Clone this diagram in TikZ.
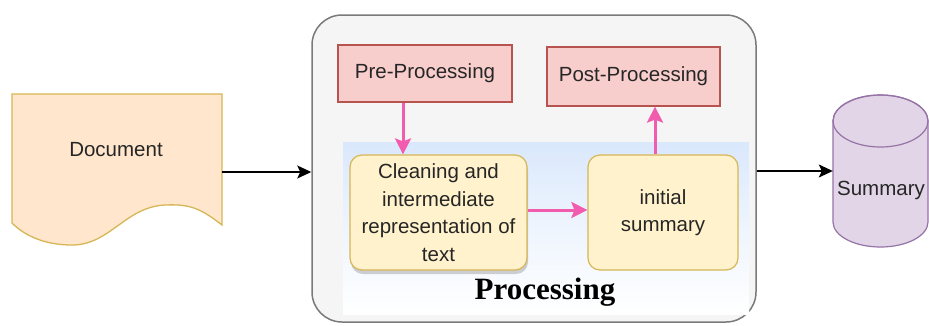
\documentclass[tikz,border=0pt]{standalone}
\usepackage{fontspec}
\setmainfont{Liberation Sans}
\newfontfamily\procfont{Liberation Serif}
\usetikzlibrary{arrows.meta,shadows}
\definecolor{docfill}{HTML}{FFE6CC}
\definecolor{docline}{HTML}{D6B656}
\definecolor{contfill}{HTML}{F5F5F5}
\definecolor{contline}{HTML}{7A7A7A}
\definecolor{bandtop}{HTML}{DAE8FC}
\definecolor{redfill}{HTML}{F8CECC}
\definecolor{redline}{HTML}{B85450}
\definecolor{yelfill}{HTML}{FFF2CC}
\definecolor{yelline}{HTML}{D6B656}
\definecolor{purfill}{HTML}{E1D5E7}
\definecolor{purline}{HTML}{9673A6}
\definecolor{pinkarrow}{HTML}{F25CAE}
\definecolor{txtcol}{HTML}{262626}
\tikzset{
  lbl/.style={text=txtcol, font=\fontsize{20.5}{27.5}\selectfont, inner sep=0pt},
  redbox/.style={draw=redline, fill=redfill, line width=1.2pt, lbl},
  yelbox/.style={draw=yelline, fill=yelfill, line width=1.2pt, rounded corners=12pt, lbl, align=center},
  pk/.style={draw=pinkarrow, line width=3pt, -{Stealth[length=16pt,width=16pt,inset=3pt]}},
  blk/.style={draw=black, line width=1.3pt, -{Stealth[length=14pt,width=13pt,inset=3pt]}},
}
\begin{document}
\begin{tikzpicture}[x=1pt,y=-1pt]
\useasboundingbox (0,0) rectangle (929,325);
\fill[white] (0,0) rectangle (929,325);
% Document shape
\draw[draw=docline, fill=docfill, line width=1.3pt]
  (12,94) -- (222,94) -- (222,225)
  .. controls (200,208) and (190,204) .. (165,205)
  .. controls (125,207) and (110,245) .. (72,245)
  .. controls (45,245) and (25,236) .. (12,223) -- cycle;
\node[minimum width=210pt, minimum height=156pt, inner sep=0pt] (doc) at (117,172) {};
\node[lbl] (doclbl) at (116,150) {Document};
% Processing container
\node[draw=contline, fill=contfill, line width=1.5pt, rounded corners=30pt,
      minimum width=444pt, minimum height=307pt] (proc) at (534,168.5) {};
\node[top color=bandtop, bottom color=white, middle color=bandtop!45!white,
      minimum width=406pt, minimum height=172pt, inner sep=0pt] (band) at (546,228) {};
\node[redbox, minimum width=174pt, minimum height=57pt] (pre) at (425,73.5) {Pre-Processing};
\node[redbox, minimum width=173pt, minimum height=59pt] (post) at (633.5,76.5) {Post-Processing};
\node[yelbox, minimum width=177pt, minimum height=115pt,
      drop shadow={shadow xshift=1pt, shadow yshift=-4pt, opacity=0.3, fill=black!60}] (clean) at (438.5,212.5)
  {Cleaning and\\intermediate\\representation of\\text};
\node[yelbox, minimum width=150pt, minimum height=115pt] (init) at (663,212.5) {initial\\summary};
\node[anchor=base, inner sep=0pt, text=black, font={\procfont\bfseries\fontsize{31}{31}\selectfont}] (proclbl) at (545,299) {Processing};
% Summary cylinder
\draw[draw=purline, fill=purfill, line width=1.2pt]
  (833,121) -- (833,222) arc[start angle=180, end angle=360, x radius=47.5pt, y radius=25pt]
  -- (928,121) arc[start angle=0, end angle=180, x radius=47.5pt, y radius=26pt] -- cycle;
\draw[draw=purline, line width=1.2pt] (880.5,121) ellipse[x radius=47.5pt, y radius=26pt];
\node[minimum width=95pt, minimum height=152pt, inner sep=0pt] (sum) at (880.5,171) {};
\node[lbl] (sumlbl) at (881,190) {Summary};
% connectors
\draw[blk] (doc.east) -- (doc.east -| proc.west);
\draw[blk] (proc.east |- sum.west) -- (sum.west);
\coordinate (pa) at ([xshift=-22pt]pre.south);
\draw[pk] (pa) -- (pa |- clean.north);
\draw[pk] ([yshift=2.5pt]clean.east) -- ([yshift=2.5pt]clean.east -| init.west);
\coordinate (pb) at ([xshift=-8pt]init.north);
\draw[pk] (pb) -- (pb |- post.south);
\end{tikzpicture}
\end{document}
